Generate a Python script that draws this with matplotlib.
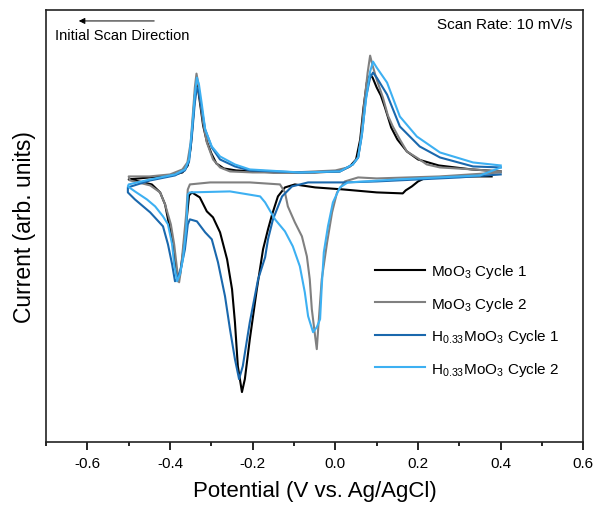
import matplotlib
matplotlib.use('Agg')
import numpy as np
from matplotlib import pyplot as plt
from matplotlib.ticker import MultipleLocator

plt.rcParams['font.family'] = ['Liberation Sans', 'DejaVu Sans']
plt.rcParams['mathtext.fontset'] = 'custom'
plt.rcParams['mathtext.rm'] = 'Liberation Sans'
plt.rcParams['mathtext.default'] = 'regular'

# MoO3 cycle 1 (starts near 0.38 V, scans negative first)
moo3_c1_v = [0.378, 0.30, 0.22, 0.20, 0.185, 0.170, 0.163, 0.10, 0.018, -0.049, -0.098, -0.122,
             -0.139, -0.153, -0.163, -0.175, -0.190, -0.207, -0.219, -0.226, -0.236, -0.243,
             -0.250, -0.262, -0.279, -0.296, -0.311, -0.328, -0.347, -0.354, -0.361, -0.369,
             -0.376, -0.381, -0.388, -0.395, -0.400, -0.412, -0.424, -0.444, -0.497, -0.50,
             -0.45, -0.40, -0.37, -0.357, -0.350, -0.345, -0.340, -0.336, -0.332, -0.326,
             -0.320, -0.311, -0.300, -0.288, -0.270, -0.240, -0.15, -0.05, 0.01, 0.035, 0.050,
             0.060, 0.068, 0.076, 0.084, 0.090, 0.100, 0.110, 0.120, 0.135, 0.150, 0.173, 0.200,
             0.25, 0.33, 0.40]
moo3_c1_i = [0.01, 0.01, 0.00, -0.04, -0.09, -0.13, -0.16, -0.15, -0.12, -0.10, -0.07, -0.10,
             -0.19, -0.37, -0.52, -0.72, -1.12, -1.62, -2.02, -2.15, -1.89, -1.45,
             -1.12, -0.82, -0.55, -0.40, -0.34, -0.20, -0.15, -0.18, -0.47, -0.77,
             -0.97, -1.04, -0.84, -0.62, -0.52, -0.27, -0.15, -0.07, -0.02, -0.02,
             0.00, 0.02, 0.05, 0.12, 0.30, 0.55, 0.82, 0.93, 0.88, 0.70,
             0.52, 0.36, 0.24, 0.14, 0.09, 0.07, 0.05, 0.05, 0.06, 0.11, 0.18,
             0.38, 0.70, 0.95, 1.03, 1.00, 0.90, 0.82, 0.70, 0.50, 0.38, 0.26, 0.18,
             0.12, 0.08, 0.06]

# MoO3 cycle 2
moo3_c2_v = [0.40, 0.253, 0.10, 0.055, 0.023, 0.004, -0.008, -0.020, -0.033, -0.040, -0.045,
             -0.049, -0.057, -0.062, -0.069, -0.081, -0.098, -0.115, -0.122, -0.134, -0.207,
             -0.303, -0.352, -0.357, -0.361, -0.369, -0.374, -0.378, -0.383, -0.390, -0.398,
             -0.412, -0.424, -0.448, -0.497, -0.50, -0.45, -0.40, -0.37, -0.358, -0.350,
             -0.345, -0.340, -0.336, -0.332, -0.328, -0.320, -0.311, -0.296, -0.279, -0.255,
             -0.20, -0.10, 0.00, 0.030, 0.042, 0.055, 0.062, 0.070, 0.078, 0.084, 0.090, 0.100,
             0.115, 0.127, 0.139, 0.156, 0.173, 0.200, 0.221, 0.253, 0.333, 0.40]
moo3_c2_i = [0.05, 0.01, -0.01, 0.00, -0.04, -0.15, -0.35, -0.65, -1.02, -1.42, -1.72,
             -1.59, -1.32, -1.02, -0.79, -0.59, -0.45, -0.29, -0.15, -0.07, -0.05,
             -0.05, -0.07, -0.12, -0.37, -0.72, -0.94, -1.05, -0.92, -0.67, -0.47,
             -0.27, -0.15, -0.08, -0.03, 0.01, 0.01, 0.03, 0.08, 0.15, 0.35,
             0.62, 0.90, 1.04, 0.95, 0.80, 0.55, 0.35, 0.18, 0.10, 0.06,
             0.05, 0.05, 0.07, 0.10, 0.13, 0.20, 0.40, 0.75, 1.05, 1.22, 1.12, 0.98,
             0.80, 0.62, 0.51, 0.38, 0.26, 0.19, 0.13, 0.10, 0.08, 0.06]

# H0.33MoO3 cycle 1
hmoo3_c1_v = [0.40, 0.30, 0.20, 0.10, 0.023, -0.066, -0.105, -0.129, -0.151, -0.163, -0.170,
              -0.187, -0.207, -0.224, -0.233, -0.243, -0.255, -0.267, -0.284, -0.299, -0.315,
              -0.335, -0.352, -0.357, -0.364, -0.374, -0.383, -0.388, -0.395, -0.405, -0.417,
              -0.448, -0.485, -0.502, -0.502, -0.448, -0.388, -0.364, -0.354, -0.347, -0.340,
              -0.335, -0.330, -0.323, -0.315, -0.299, -0.279, -0.243, -0.207, -0.086, 0.011,
              0.042, 0.055, 0.064, 0.074, 0.084, 0.091, 0.100, 0.125, 0.156, 0.204, 0.253,
              0.333, 0.40]
hmoo3_c1_i = [0.03, 0.00, -0.02, -0.04, -0.05, -0.05, -0.09, -0.19, -0.42, -0.62, -0.80,
              -1.02, -1.45, -1.89, -2.02, -1.82, -1.52, -1.19, -0.85, -0.62, -0.55,
              -0.44, -0.42, -0.47, -0.72, -0.92, -1.02, -1.04, -0.87, -0.67, -0.49,
              -0.35, -0.22, -0.15, -0.10, -0.03, 0.02, 0.07, 0.16, 0.42, 0.75,
              0.90, 0.85, 0.68, 0.48, 0.30, 0.18, 0.11, 0.07, 0.05, 0.06,
              0.13, 0.20, 0.42, 0.80, 1.00, 1.05, 1.00, 0.83, 0.51, 0.31, 0.20,
              0.11, 0.10]

# H0.33MoO3 cycle 2
hmoo3_c2_v = [0.40, 0.35, 0.25, 0.15, 0.071, 0.030, 0.011, -0.006, -0.018, -0.028, -0.033,
              -0.037, -0.045, -0.054, -0.066, -0.074, -0.086, -0.103, -0.122, -0.146, -0.170,
              -0.182, -0.255, -0.352, -0.357, -0.361, -0.369, -0.376, -0.383, -0.390, -0.395,
              -0.405, -0.417, -0.436, -0.456, -0.485, -0.502, -0.50, -0.448, -0.388, -0.364,
              -0.354, -0.347, -0.340, -0.335, -0.330, -0.323, -0.315, -0.299, -0.279, -0.243,
              -0.207, -0.086, 0.011, 0.042, 0.055, 0.064, 0.074, 0.084, 0.091, 0.100, 0.125,
              0.156, 0.197, 0.253, 0.333, 0.40]
hmoo3_c2_i = [0.10, 0.02, 0.00, -0.02, -0.04, -0.05, -0.10, -0.25, -0.49, -0.75, -1.09,
              -1.42, -1.50, -1.55, -1.39, -1.15, -0.89, -0.69, -0.54, -0.42, -0.25,
              -0.19, -0.14, -0.15, -0.17, -0.52, -0.82, -0.97, -1.04, -0.87, -0.67,
              -0.47, -0.39, -0.29, -0.22, -0.14, -0.09, -0.07, -0.02, 0.03, 0.08,
              0.18, 0.48, 0.83, 1.00, 0.93, 0.73, 0.48, 0.31, 0.21, 0.13,
              0.08, 0.05, 0.06, 0.13, 0.20, 0.43, 0.78, 1.06, 1.16, 1.10, 0.95,
              0.61, 0.41, 0.25, 0.15, 0.12]

labels = [r'MoO$_3$ Cycle 1', r'MoO$_3$ Cycle 2',
          r'H$_{0.33}$MoO$_3$ Cycle 1', r'H$_{0.33}$MoO$_3$ Cycle 2']
colors = ['#000000', '#808080', '#1a68ad', '#3db0f2']

fig = plt.figure(figsize=(5.96, 5.10), dpi=100)
ax = fig.add_axes([0.0772, 0.1314, 0.9017, 0.8476])

curves = [(moo3_c1_v, moo3_c1_i), (moo3_c2_v, moo3_c2_i),
          (hmoo3_c1_v, hmoo3_c1_i), (hmoo3_c2_v, hmoo3_c2_i)]
for (v, i), c, lab in zip(curves, colors, labels):
    ax.plot(v, i, color=c, lw=1.5, label=lab, solid_joinstyle='round')

ax.set_xlim(-0.7, 0.6)
ax.set_ylim(-2.65, 1.68)
ax.xaxis.set_major_locator(MultipleLocator(0.2))
ax.xaxis.set_minor_locator(MultipleLocator(0.1))
ax.tick_params(axis='x', which='major', direction='out', length=6, width=1.2, labelsize=11, pad=4)
ax.tick_params(axis='x', which='minor', direction='out', length=3, width=1.2)
ax.set_yticks([])
ax.set_xticks([-0.6, -0.4, -0.2, 0.0, 0.2, 0.4, 0.6])
ax.set_xticklabels(['-0.6', '-0.4', '-0.2', '0.0', '0.2', '0.4', '0.6'])
for s in ax.spines.values():
    s.set_linewidth(1.2)
    s.set_color('#222222')

ax.set_xlabel('Potential (V vs. Ag/AgCl)', fontsize=16, labelpad=7)
ax.set_ylabel('Current (arb. units)', fontsize=16.5, labelpad=7)

ax.legend(loc='upper left', bbox_to_anchor=(0.612, 0.416), frameon=False, fontsize=11,
          handlelength=3.3, handletextpad=0.35, labelspacing=0.95, borderpad=0, borderaxespad=0)

ax.annotate('', xy=(0.0558, 0.974), xytext=(0.2065, 0.974), xycoords='axes fraction',
            arrowprops=dict(arrowstyle='-|>', color='black', lw=0.7, mutation_scale=9))
ax.text(0.0167, 0.9415, 'Initial Scan Direction', transform=ax.transAxes,
        fontsize=10.5, ha='left', va='center')
ax.text(0.9786, 0.967, 'Scan Rate: 10 mV/s', transform=ax.transAxes,
        fontsize=11, ha='right', va='center')

fig.savefig('out.png', dpi=100)
